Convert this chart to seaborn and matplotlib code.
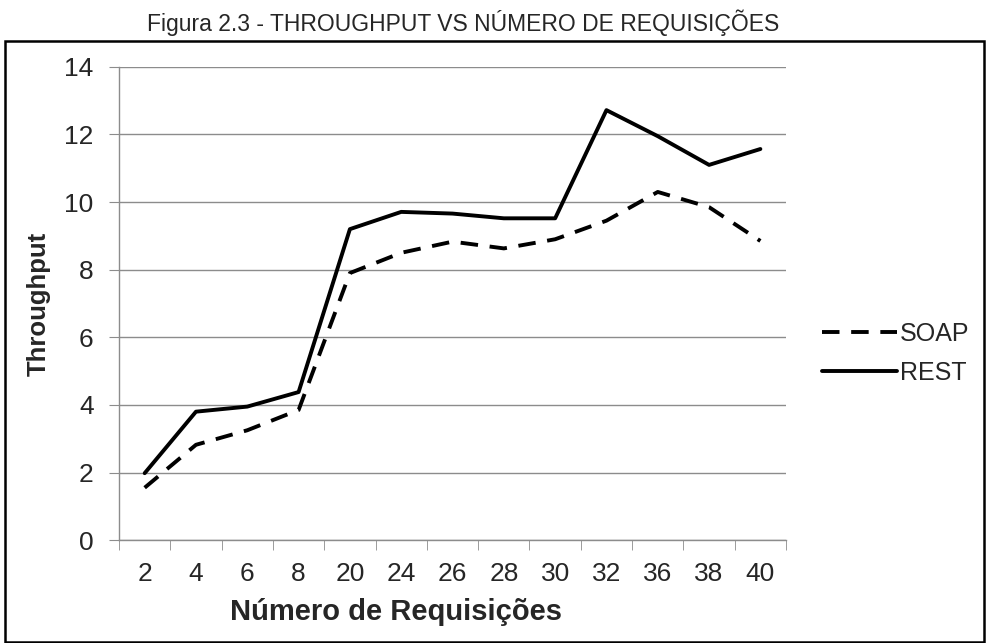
import numpy as np
import pandas as pd
import matplotlib.pyplot as plt
import seaborn as sns
from matplotlib.patches import Rectangle

# data
requisicoes = ["2", "4", "6", "8", "20", "24", "26", "28", "30", "32", "36", "38", "40"]
soap = [1.55, 2.82, 3.25, 3.85, 7.9, 8.5, 8.83, 8.63, 8.9, 9.45, 10.3, 9.85, 8.85]
rest = [1.98, 3.8, 3.95, 4.38, 9.2, 9.71, 9.66, 9.52, 9.52, 12.72, 11.95, 11.1, 11.57]

df = pd.DataFrame({
    "req": requisicoes * 2,
    "throughput": soap + rest,
    "serie": ["SOAP"] * len(soap) + ["REST"] * len(rest),
})

sns.set_style("white")
plt.rcParams['font.family'] = ['Liberation Sans', 'DejaVu Sans']

fig = plt.figure(figsize=(9.86, 6.43), dpi=100)
ax = fig.add_axes([0.1207, 0.160, 0.6765, 0.736])

sns.lineplot(data=df, x="req", y="throughput", style="serie", sort=False,
             dashes={"SOAP": (4.5, 3), "REST": ""}, color="black",
             linewidth=2.8, ax=ax, legend=True)

ax.set_ylim(0, 14)
ax.set_yticks(range(0, 15, 2))
ax.set_xlim(-0.5, len(requisicoes) - 0.5)
ax.grid(axis="y", color="#8c8c8c", linewidth=1)
ax.set_axisbelow(True)
for s in ["top", "right"]:
    ax.spines[s].set_visible(False)
for s in ["left", "bottom"]:
    ax.spines[s].set_color("#8c8c8c")
    ax.spines[s].set_linewidth(1)

ax.tick_params(axis="y", length=7.2, color="#8c8c8c", labelsize=19, pad=11, left=True)
ax.tick_params(axis="x", which="major", length=0, labelsize=19, pad=16)
ax.set_xticks(np.arange(-0.5, len(requisicoes), 1), minor=True)
ax.tick_params(axis="x", which="minor", length=7.2, color="#8c8c8c", bottom=True)

ax.set_xlabel("Número de Requisições", fontsize=21, fontweight="bold", ha="left", va="center")
ax.set_ylabel("Throughput", fontsize=18.5, fontweight="bold")
ax.xaxis.set_label_coords(0.166, -0.152)
ax.yaxis.set_label_coords(-0.102, 0.5)

leg = ax.legend(loc="center left", bbox_to_anchor=(0.834, 0.451),
                bbox_transform=fig.transFigure, frameon=False, fontsize=18,
                handlelength=3.0, handletextpad=0.1, labelspacing=0.6,
                borderpad=0, borderaxespad=0)
for line in leg.get_lines():
    line.set_linewidth(2.8)

fig.text(0.47, 0.964, "Figura 2.3 - THROUGHPUT VS NÚMERO DE REQUISIÇÕES",
         ha="center", va="center", fontsize=16.5)

fig.patches.append(Rectangle((0.005, 0.002), 0.993, 0.934, transform=fig.transFigure,
                             fill=False, edgecolor="black", linewidth=1.8))

fig.savefig("out.png", dpi=100)
